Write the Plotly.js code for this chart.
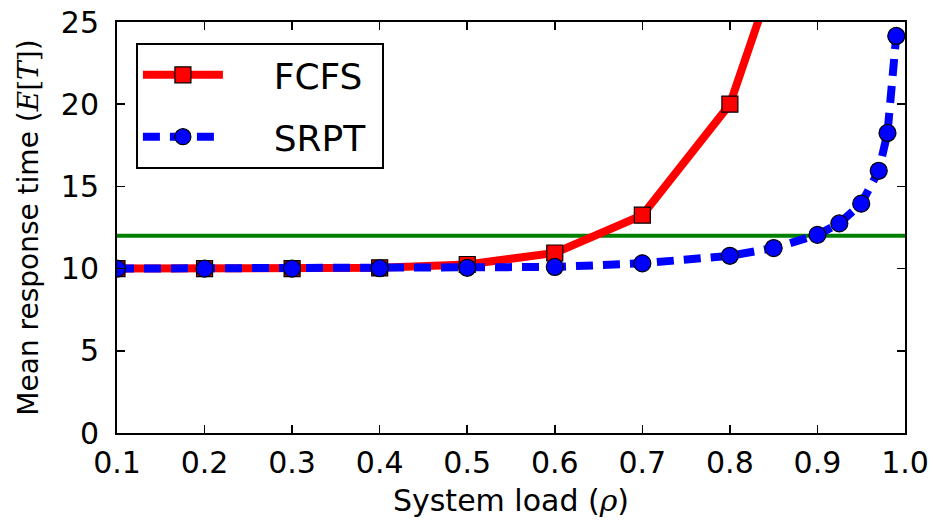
<!DOCTYPE html>
<html>
<head>
<meta charset="utf-8">
<script src="https://cdn.plot.ly/plotly-3.0.1.min.js"></script>
<style>html,body{margin:0;padding:0;background:#fff;}#chart{width:933px;height:523px;}</style>
</head>
<body>
<div id="chart"></div>
<script>
// Data
const fcfsLoad = [0.1, 0.2, 0.3, 0.4, 0.5, 0.6, 0.7, 0.8, 0.9];
const fcfsTime = [10.0, 10.0, 10.0, 10.05, 10.25, 10.95, 13.25, 20.0, 35.6];
const srptLoad = [0.1, 0.2, 0.3, 0.4, 0.5, 0.6, 0.7, 0.8, 0.85, 0.9, 0.925, 0.95, 0.97, 0.98, 0.99];
const srptTime = [10.0, 10.0, 10.0, 10.02, 10.05, 10.1, 10.32, 10.78, 11.25, 12.05, 12.75, 13.95, 15.95, 18.25, 24.15];
const thresholdLoad = [0.1, 1.0];
const thresholdTime = [12, 12];
const xTicks = [0.1, 0.2, 0.3, 0.4, 0.5, 0.6, 0.7, 0.8, 0.9, 1.0];
const xTickText = ["0.1", "0.2", "0.3", "0.4", "0.5", "0.6", "0.7", "0.8", "0.9", "1.0"];
const yTicks = [0, 5, 10, 15, 20, 25];

const font = "DejaVu Sans, sans-serif";
const pad = "\u00a0\u00a0\u00a0\u00a0";
const tail = "\u00a0";

const traces = [
  {
    x: thresholdLoad, y: thresholdTime, mode: "lines",
    line: {color: "#008000", width: 4}, showlegend: false, hoverinfo: "skip"
  },
  {
    x: fcfsLoad, y: fcfsTime, name: pad + "FCFS" + tail, mode: "lines+markers", legendgroup: "a",
    line: {color: "#ff0000", width: 8},
    marker: {symbol: "square", size: 16, color: "#ff0000", line: {color: "#000", width: 1.2}}
  },
  {
    x: srptLoad, y: srptTime, name: pad + "SRPT" + tail, mode: "lines+markers", legendgroup: "b",
    line: {color: "#0000ff", width: 8, dash: "17px,10px"},
    marker: {symbol: "circle", size: 17, color: "#0000ff", line: {color: "#000", width: 1.2}}
  }
];

const axisCommon = {
  showgrid: false, zeroline: false, showline: true, linecolor: "#000", linewidth: 2,
  mirror: "allticks", ticks: "inside", ticklen: 8, tickwidth: 1.5, tickcolor: "#000",
  tickfont: {family: font, size: 30, color: "#000"}
};

const layout = {
  width: 933, height: 523,
  margin: {l: 117, r: 28, t: 22, b: 90},
  paper_bgcolor: "#fff", plot_bgcolor: "#fff",
  font: {family: font, color: "#000"},
  xaxis: Object.assign({}, axisCommon, {
    range: [0.1, 1.0], tickvals: xTicks, ticktext: xTickText, ticklabelstandoff: 2,
    title: {text: "System load (<i><span style=\"font-family:DejaVu Serif\">ρ</span></i>)", font: {family: font, size: 30, color: "#000"}, standoff: 11}
  }),
  yaxis: Object.assign({}, axisCommon, {
    range: [0, 25], tickvals: yTicks, ticklabelstandoff: 10,
    title: {text: "Mean response time (<span style=\"font-family:DejaVu Serif\"><i>E</i>[<i>T</i>]</span>)", font: {family: font, size: 28, color: "#000"}, standoff: 14}
  }),
  legend: {
    x: 0.024, y: 0.949, xanchor: "left", yanchor: "top",
    bordercolor: "#000", borderwidth: 2, bgcolor: "#fff",
    font: {family: font, size: 36, color: "#000"},
    traceorder: "grouped", tracegroupgap: 12, itemwidth: 80
  },
  showlegend: true
};

Plotly.newPlot("chart", traces, layout, {displayModeBar: false, staticPlot: true});
</script>
</body>
</html>
